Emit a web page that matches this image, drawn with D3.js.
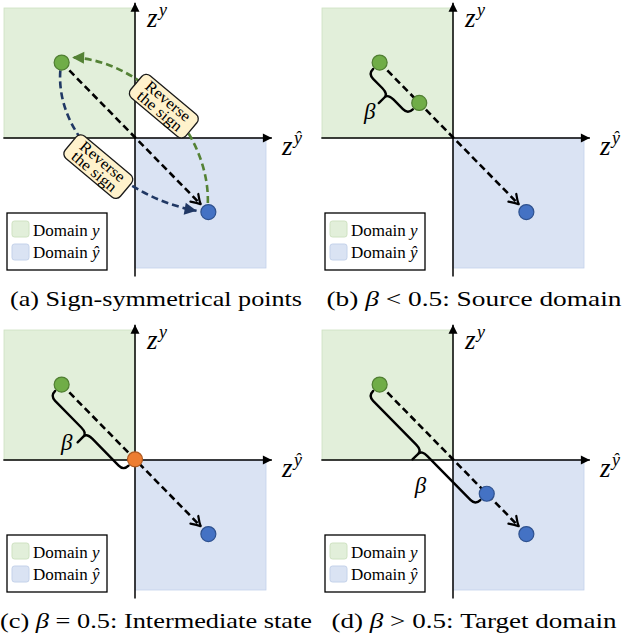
<!DOCTYPE html>
<html>
<head>
<meta charset="utf-8">
<script src="https://cdn.jsdelivr.net/npm/d3@7"></script>
<style>
body { margin: 0; background: #fff; }
</style>
</head>
<body>
<svg id="visualization"></svg>
<script>
// Size of the page
var width = 625;
var height = 639;

// Panel data
var panelIds = ["a", "b", "c", "d"];
var captionTexts = ["Sign-symmetrical points", "Source domain", "Intermediate state", "Target domain"];
var betaSigns = [null, "<", "=", ">"];
var betaValues = [null, 0.27, 0.5, 0.73];
var betaThreshold = 0.5;

// Points in latent space (z^yhat, z^y)
var sourcePoint = [-0.56, 0.58];
var targetPoint = [0.56, -0.57];
var axisNames = ["y", "\u0177"];
var legendNames = ["y", "\u0177"];

// "Reverse the sign" curves of panel (a), cubic control points in latent space
var reverseToSource = [[0.556, -0.5], [0.57, 0.06], [0.04, 0.6], [-0.48, 0.62]];
var reverseToTarget = [[-0.57, 0.52], [-0.61, -0.02], [-0.04, -0.47], [0.47, -0.56]];
var reverseLabelAt = [[0.22, 0.245], [-0.28, -0.22]];
var reverseLines = ["Reverse", "the sign"];

// Layout (pixels)
var colX = [135, 453];
var rowY = [138, 460];
var captionWidths = [292, 295, 312, 285];
var betaLabelShift = [null, [-9, 8], [-11, 0], [8, 26]];

var green = "#70ad47", blue = "#4472c4", orange = "#ed7d31";

var svg = d3.select("#visualization")
    .attr("width", width)
    .attr("height", height);

// Every text gets the serif face directly (inheritance is not relied on)
function addText(sel, size, italic) {
    var t = sel.append("text")
        .attr("font-family", "Liberation Serif")
        .attr("font-size", size);
    if (italic) t.attr("font-style", "italic");
    return t;
}
function addSpan(t, txt, italic) {
    var s = t.append("tspan").attr("font-family", "Liberation Serif").text(txt);
    if (italic) s.attr("font-style", "italic");
    return s;
}

// Arrow markers
var defs = svg.append("defs");
function addMarker(id, d, fill, stroke) {
    defs.append("marker")
        .attr("id", id)
        .attr("viewBox", "-14 -8 16 16")
        .attr("refX", 0).attr("refY", 0)
        .attr("markerUnits", "userSpaceOnUse")
        .attr("markerWidth", 16).attr("markerHeight", 16)
        .attr("orient", "auto")
        .append("path")
        .attr("d", d)
        .attr("fill", fill)
        .attr("stroke", stroke)
        .attr("stroke-width", stroke === "none" ? 0 : 2.2)
        .attr("stroke-linecap", "round")
        .attr("stroke-linejoin", "round");
}
addMarker("axisHead", "M-9,-4.5L0,0L-9,4.5Z", "#000", "none");
addMarker("openHead", "M-9,-5.5Q-3.5,-1.5 0,0Q-3.5,1.5 -9,5.5", "none", "#000");
addMarker("greenHead", "M-12,-6L0,0L-12,6Z", "#548235", "none");
addMarker("navyHead", "M-12,-6L0,0L-12,6Z", "#203864", "none");

// Point along the segment from p to q, shortened by dist pixels at the end
function shorten(p, q, dist) {
    var dx = q[0] - p[0], dy = q[1] - p[1], L = Math.hypot(dx, dy);
    return [q[0] - dx / L * dist, q[1] - dy / L * dist];
}

// Curly brace on the lower-left side of the segment s -> m
function bracePath(s, m) {
    var dx = m[0] - s[0], dy = m[1] - s[1], L = Math.hypot(dx, dy);
    var u = [dx / L, dy / L], n = [-u[1], u[0]];
    var e = 9, r = 7, t = 13, k = 8, b = e + r;
    function P(a, v) { return [s[0] + u[0] * a + n[0] * v, s[1] + u[1] * a + n[1] * v]; }
    var p = d3.path();
    var q;
    q = P(0, e); p.moveTo(q[0], q[1]);
    var c = P(0, b), q2 = P(r, b); p.quadraticCurveTo(c[0], c[1], q2[0], q2[1]);
    q = P(L / 2 - k, b); p.lineTo(q[0], q[1]);
    c = P(L / 2, b); q2 = P(L / 2, b + 5); p.quadraticCurveTo(c[0], c[1], q2[0], q2[1]);
    q = P(L / 2, b + t); p.lineTo(q[0], q[1]);
    q = P(L / 2, b + 5); p.moveTo(q[0], q[1]);
    c = P(L / 2, b); q2 = P(L / 2 + k, b); p.quadraticCurveTo(c[0], c[1], q2[0], q2[1]);
    q = P(L - r, b); p.lineTo(q[0], q[1]);
    c = P(L, b); q2 = P(L, e); p.quadraticCurveTo(c[0], c[1], q2[0], q2[1]);
    return { d: p.toString(), tip: P(L / 2, b + t) };
}

function pointColor(beta) {
    if (beta < betaThreshold) return [green, "#507e32"];
    if (beta > betaThreshold) return [blue, "#2f528f"];
    return [orange, "#ae5a21"];
}

function drawPoint(g, p, col) {
    g.append("circle")
        .attr("cx", p[0]).attr("cy", p[1])
        .attr("r", 7.5)
        .attr("fill", col[0])
        .attr("stroke", col[1])
        .attr("stroke-width", 1.2);
}

panelIds.forEach(function (id, i) {
    var ox = colX[i % 2], oy = rowY[Math.floor(i / 2)];
    var x = d3.scaleLinear().domain([-1, 1]).range([ox - 131, ox + 131]);
    var y = d3.scaleLinear().domain([-1, 1]).range([oy + 130, oy - 130]);
    var g = svg.append("g").attr("class", "panel-" + id);

    // Domain squares
    g.append("rect")
        .attr("x", x(-1)).attr("y", y(1))
        .attr("width", x(0) - x(-1)).attr("height", y(0) - y(1))
        .attr("fill", "#e2efda").attr("stroke", "#cde0c0").attr("stroke-width", 0.8);
    g.append("rect")
        .attr("x", x(0)).attr("y", y(0))
        .attr("width", x(1) - x(0)).attr("height", y(-1) - y(0))
        .attr("fill", "#dae3f3").attr("stroke", "#c2d1ea").attr("stroke-width", 0.8);

    // Axes
    g.append("line")
        .attr("x1", x(-1.005)).attr("y1", y(0)).attr("x2", x(1.045)).attr("y2", y(0))
        .attr("stroke", "#000").attr("stroke-width", 1.5).attr("marker-end", "url(#axisHead)");
    g.append("line")
        .attr("x1", x(0)).attr("y1", y(-1.065)).attr("x2", x(0)).attr("y2", y(1.04))
        .attr("stroke", "#000").attr("stroke-width", 1.5).attr("marker-end", "url(#axisHead)");

    // Axis labels z^y and z^yhat
    var zLabels = [[x(0) + 12, y(1) + 19, axisNames[0]], [x(1) + 16, y(0) + 17, axisNames[1]]];
    zLabels.forEach(function (d) {
        addText(g, 27, true).attr("x", d[0]).attr("y", d[1]).text("z");
        addText(g, 18, true).attr("x", d[0] + 12).attr("y", d[1] - 11).text(d[2]);
    });

    // Legend
    var lg = g.append("g").attr("transform", "translate(" + (ox - 128) + "," + (oy + 75) + ")");
    lg.append("rect").attr("width", 100).attr("height", 57)
        .attr("fill", "#fff").attr("stroke", "#000").attr("stroke-width", 1.3);
    legendNames.forEach(function (name, j) {
        lg.append("rect")
            .attr("x", 5).attr("y", 8 + j * 23)
            .attr("width", 17).attr("height", 16).attr("rx", 2.5)
            .attr("fill", j === 0 ? "#e2efda" : "#dae3f3")
            .attr("stroke", j === 0 ? "#cfe2c2" : "#c4d2ea");
        var t = addText(lg, 17, false).attr("x", 26).attr("y", 23 + j * 22);
        addSpan(t, "Domain ", false);
        addSpan(t, name, true);
    });

    var s = [x(sourcePoint[0]), y(sourcePoint[1])];
    var tgt = [x(targetPoint[0]), y(targetPoint[1])];

    // Interpolation arrow
    var end = shorten(s, tgt, 11);
    g.append("line")
        .attr("x1", s[0]).attr("y1", s[1]).attr("x2", end[0]).attr("y2", end[1])
        .attr("stroke", "#000").attr("stroke-width", 2.6)
        .attr("stroke-dasharray", "7,4")
        .attr("marker-end", "url(#openHead)");

    if (betaValues[i] === null) {
        // Sign reversal curves
        var curve = function (pts) {
            var p = d3.path();
            var q = pts.map(function (d) { return [x(d[0]), y(d[1])]; });
            p.moveTo(q[0][0], q[0][1]);
            p.bezierCurveTo(q[1][0], q[1][1], q[2][0], q[2][1], q[3][0], q[3][1]);
            return p.toString();
        };
        g.append("path").attr("d", curve(reverseToSource))
            .attr("fill", "none").attr("stroke", "#548235").attr("stroke-width", 2.6)
            .attr("stroke-dasharray", "7,4").attr("marker-end", "url(#greenHead)");
        g.append("path").attr("d", curve(reverseToTarget))
            .attr("fill", "none").attr("stroke", "#203864").attr("stroke-width", 2.6)
            .attr("stroke-dasharray", "7,4").attr("marker-end", "url(#navyHead)");

        reverseLabelAt.forEach(function (d) {
            var bg = g.append("g")
                .attr("transform", "translate(" + x(d[0]) + "," + y(d[1]) + ") rotate(40)");
            bg.append("rect")
                .attr("x", -36).attr("y", -14.5).attr("width", 72).attr("height", 29).attr("rx", 6)
                .attr("fill", "#fff2cc").attr("stroke", "#1a1a1a").attr("stroke-width", 1.3);
            reverseLines.forEach(function (line, j) {
                addText(bg, 15.5, false)
                    .attr("x", 0).attr("y", -1.5 + j * 13)
                    .attr("text-anchor", "middle")
                    .attr("textLength", 54).attr("lengthAdjust", "spacingAndGlyphs")
                    .text(line);
            });
        });

        drawPoint(g, s, [green, "#507e32"]);
        drawPoint(g, tgt, [blue, "#2f528f"]);
    } else {
        var beta = betaValues[i];
        var m = [x(sourcePoint[0] + beta * (targetPoint[0] - sourcePoint[0])),
                 y(sourcePoint[1] + beta * (targetPoint[1] - sourcePoint[1]))];
        var br = bracePath(s, m);
        g.append("path").attr("d", br.d)
            .attr("fill", "none").attr("stroke", "#000").attr("stroke-width", 2.4)
            .attr("stroke-linecap", "round");
        addText(g, 23, true)
            .attr("x", br.tip[0] + betaLabelShift[i][0])
            .attr("y", br.tip[1] + betaLabelShift[i][1])
            .attr("text-anchor", "middle").attr("dominant-baseline", "central")
            .text("\u03b2");

        drawPoint(g, s, [green, "#507e32"]);
        drawPoint(g, tgt, [blue, "#2f528f"]);
        drawPoint(g, m, pointColor(beta));
    }

    // Caption
    var cap = addText(g, 22, false)
        .attr("x", ox + 21).attr("y", oy + 168)
        .attr("text-anchor", "middle")
        .attr("textLength", captionWidths[i]).attr("lengthAdjust", "spacingAndGlyphs");
    if (betaValues[i] === null) {
        cap.text("(" + id + ") " + captionTexts[i]);
    } else {
        addSpan(cap, "(" + id + ") ", false);
        addSpan(cap, "\u03b2", true);
        addSpan(cap, " " + betaSigns[i] + " " + betaThreshold + ": " + captionTexts[i], false);
    }
});
</script>
</body>
</html>
